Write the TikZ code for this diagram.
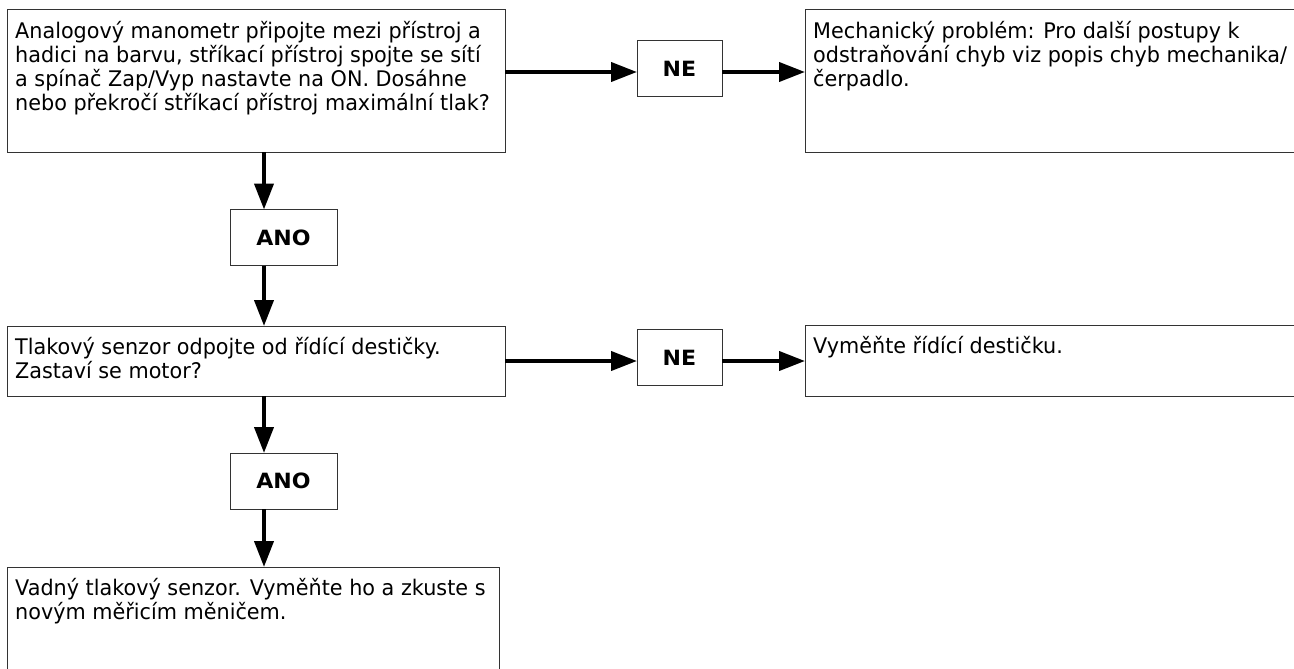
\documentclass[tikz,border=0pt]{standalone}
\usepackage{fontspec}
\setmainfont{DejaVu Sans}[FakeStretch=0.965]
\newfontfamily\labfont{DejaVu Sans Bold}[FakeStretch=1.05]
\usetikzlibrary{arrows.meta}
\begin{document}
\begin{tikzpicture}[x=1pt,y=-1pt,
  box/.style={draw=black!80,line width=1pt,anchor=north west,inner sep=0pt,outer sep=0pt},
  txt/.style={anchor=north west,inner sep=0pt,align=left,font=\fontsize{21.5}{24}\selectfont},
  lab/.style={draw=black!80,line width=1pt,inner sep=0pt,outer sep=0pt,minimum width=85pt,minimum height=56pt,font=\labfont\fontsize{21}{22}\selectfont},
  labw/.style={lab,minimum width=107pt},
  arr/.style={line width=4pt,-{Triangle[length=26pt,width=19pt]},shorten >=0pt}]
\useasboundingbox (0,0) rectangle (1294,669);
% boxes
\node[box,minimum width=498pt,minimum height=142pt] (B1) at (7,10) {};
\node[box,minimum width=489pt,minimum height=142pt] (B2) at (805,10) {};
\node[box,minimum width=498pt,minimum height=70pt] (B3) at (7,326) {};
\node[box,minimum width=489pt,minimum height=71pt] (B4) at (805,325) {};
\node[box,minimum width=492pt,minimum height=110pt] (B5) at (7,567) {};
% texts
\node[txt] (T1) at ([shift={(8,11)}]B1.north west) {Analogový manometr připojte mezi přístroj a\\hadici na barvu, stříkací přístroj spojte se sítí\\a spínač Zap/Vyp nastavte na ON. Dosáhne\\nebo překročí stříkací přístroj maximální tlak?};
\node[txt] (T2) at ([shift={(8,11)}]B2.north west) {Mechanický problém: Pro další postupy k\\odstraňování chyb viz popis chyb mechanika/\\čerpadlo.};
\node[txt] (T3) at ([shift={(8,11)}]B3.north west) {Tlakový senzor odpojte od řídící destičky.\\Zastaví se motor?};
\node[txt] (T4) at ([shift={(8,11)}]B4.north west) {Vyměňte řídící destičku.};
\node[txt] (T5) at ([shift={(8,11)}]B5.north west) {Vadný tlakový senzor. Vyměňte ho a zkuste s\\novým měřicím měničem.};
% labels
\node[lab] (NE1) at (679.5,69) {NE};
\node[lab] (NE2) at (679.5,357.5) {NE};
\node[labw] (ANO1) at (283.5,237.5) {ANO};
\node[labw] (ANO2) at (283.5,481) {ANO};
% coordinates for connectors
\coordinate (h1) at (0,72);
\coordinate (h2) at (0,361);
\coordinate (vx) at (264,0);
% connectors
\draw[arr] (B1.east |- h1) -- (NE1.west |- h1);
\draw[arr] (NE1.east |- h1) -- (B2.west |- h1);
\draw[arr] (B3.east |- h2) -- (NE2.west |- h2);
\draw[arr] (NE2.east |- h2) -- (B4.west |- h2);
\draw[arr] (B1.south -| vx) -- (ANO1.north -| vx);
\draw[arr] (ANO1.south -| vx) -- (B3.north -| vx);
\draw[arr] (B3.south -| vx) -- (ANO2.north -| vx);
\draw[arr] (ANO2.south -| vx) -- (B5.north -| vx);
\end{tikzpicture}
\end{document}
